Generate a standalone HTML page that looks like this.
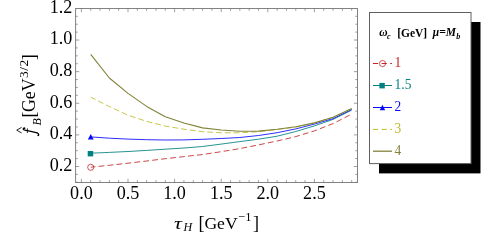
<!DOCTYPE html>
<html><head><meta charset="utf-8"><title>plot</title>
<style>
html,body{margin:0;padding:0;background:#fff;}
body{width:490px;height:243px;overflow:hidden;font-family:"Liberation Serif",serif;}
svg{display:block;will-change:transform;}
text{font-family:"Liberation Serif",serif;}
</style></head><body>
<svg width="490" height="243" viewBox="0 0 490 243">
<rect width="490" height="243" fill="#fff"/>
<g fill="none" stroke-width="0.85" stroke-linejoin="round">
<path d="M90.72,167.20 L109.36,165.30 L128.00,163.20 L146.64,161.00 L165.28,158.70 L183.92,156.60 L202.56,154.50 L221.20,151.70 L239.84,148.60 L258.48,144.90 L277.12,141.00 L295.76,136.60 L314.40,130.90 L333.04,123.60 L351.68,114.10" stroke="#c02626" stroke-dasharray="5.8 3.2" stroke-dashoffset="1.1"/>
<path d="M90.72,153.20 L109.36,152.40 L128.00,151.50 L146.64,150.40 L165.28,149.20 L183.92,148.00 L202.56,146.50 L221.20,144.10 L239.84,141.60 L258.48,139.20 L277.12,136.20 L295.76,131.50 L314.40,125.90 L333.04,119.40 L351.68,110.20" stroke="#008080"/>
<path d="M90.72,136.90 L109.36,138.20 L128.00,139.10 L146.64,139.70 L165.28,140.00 L183.92,139.90 L202.56,139.30 L221.20,138.50 L239.84,137.50 L258.48,135.50 L277.12,132.70 L295.76,128.90 L314.40,124.10 L333.04,118.60 L351.68,109.50" stroke="#0808ff"/>
<path d="M90.72,97.20 L109.36,106.50 L128.00,115.20 L146.64,121.40 L165.28,126.10 L183.92,129.20 L202.56,131.70 L221.20,132.80 L239.84,132.80 L258.48,131.70 L277.12,129.60 L295.76,127.10 L314.40,123.10 L333.04,117.40 L351.68,108.70" stroke="#bcbc28" stroke-dasharray="5.8 3.0" stroke-dashoffset="0.5"/>
<path d="M90.72,54.40 L109.36,78.00 L128.00,93.40 L146.64,106.40 L165.28,116.80 L183.92,123.00 L202.56,127.90 L221.20,130.00 L239.84,131.20 L258.48,131.10 L277.12,129.20 L295.76,126.80 L314.40,122.90 L333.04,117.20 L351.68,108.50" stroke="#82823a" stroke-width="1.1"/>
</g>
<circle cx="90.7" cy="167.3" r="3.05" fill="none" stroke="#c02626" stroke-width="0.8"/>
<rect x="87.7" y="151" width="5.5" height="5.4" fill="#008080"/>
<path d="M90.7,134.1 L93.7,139.5 L87.9,139.5 Z" fill="#0808ff"/>
<g stroke="#828282" stroke-width="1" fill="none">
<rect x="75.6" y="8.5" width="281.9" height="174.0"/>
<path d="M81.40,182.5 v-3.7 M81.40,8.5 v3.7 M90.72,182.5 v-2.3 M90.72,8.5 v2.3 M100.04,182.5 v-2.3 M100.04,8.5 v2.3 M109.36,182.5 v-2.3 M109.36,8.5 v2.3 M118.68,182.5 v-2.3 M118.68,8.5 v2.3 M128.00,182.5 v-3.7 M128.00,8.5 v3.7 M137.32,182.5 v-2.3 M137.32,8.5 v2.3 M146.64,182.5 v-2.3 M146.64,8.5 v2.3 M155.96,182.5 v-2.3 M155.96,8.5 v2.3 M165.28,182.5 v-2.3 M165.28,8.5 v2.3 M174.60,182.5 v-3.7 M174.60,8.5 v3.7 M183.92,182.5 v-2.3 M183.92,8.5 v2.3 M193.24,182.5 v-2.3 M193.24,8.5 v2.3 M202.56,182.5 v-2.3 M202.56,8.5 v2.3 M211.88,182.5 v-2.3 M211.88,8.5 v2.3 M221.20,182.5 v-3.7 M221.20,8.5 v3.7 M230.52,182.5 v-2.3 M230.52,8.5 v2.3 M239.84,182.5 v-2.3 M239.84,8.5 v2.3 M249.16,182.5 v-2.3 M249.16,8.5 v2.3 M258.48,182.5 v-2.3 M258.48,8.5 v2.3 M267.80,182.5 v-3.7 M267.80,8.5 v3.7 M277.12,182.5 v-2.3 M277.12,8.5 v2.3 M286.44,182.5 v-2.3 M286.44,8.5 v2.3 M295.76,182.5 v-2.3 M295.76,8.5 v2.3 M305.08,182.5 v-2.3 M305.08,8.5 v2.3 M314.40,182.5 v-3.7 M314.40,8.5 v3.7 M323.72,182.5 v-2.3 M323.72,8.5 v2.3 M333.04,182.5 v-2.3 M333.04,8.5 v2.3 M342.36,182.5 v-2.3 M342.36,8.5 v2.3 M351.68,182.5 v-2.3 M351.68,8.5 v2.3 M75.6,182.31 h2.2 M357.5,182.31 h-2.2 M75.6,174.40 h2.2 M357.5,174.40 h-2.2 M75.6,166.50 h3.6 M357.5,166.50 h-3.6 M75.6,158.59 h2.2 M357.5,158.59 h-2.2 M75.6,150.69 h2.2 M357.5,150.69 h-2.2 M75.6,142.78 h2.2 M357.5,142.78 h-2.2 M75.6,134.88 h3.6 M357.5,134.88 h-3.6 M75.6,126.97 h2.2 M357.5,126.97 h-2.2 M75.6,119.07 h2.2 M357.5,119.07 h-2.2 M75.6,111.16 h2.2 M357.5,111.16 h-2.2 M75.6,103.26 h3.6 M357.5,103.26 h-3.6 M75.6,95.35 h2.2 M357.5,95.35 h-2.2 M75.6,87.45 h2.2 M357.5,87.45 h-2.2 M75.6,79.55 h2.2 M357.5,79.55 h-2.2 M75.6,71.64 h3.6 M357.5,71.64 h-3.6 M75.6,63.73 h2.2 M357.5,63.73 h-2.2 M75.6,55.83 h2.2 M357.5,55.83 h-2.2 M75.6,47.92 h2.2 M357.5,47.92 h-2.2 M75.6,40.02 h3.6 M357.5,40.02 h-3.6 M75.6,32.11 h2.2 M357.5,32.11 h-2.2 M75.6,24.21 h2.2 M357.5,24.21 h-2.2 M75.6,16.30 h2.2 M357.5,16.30 h-2.2" stroke-width="0.7" stroke="#757575"/>
</g>
<g font-size="18.1" fill="#000">
<text x="81.4" y="198.7" text-anchor="middle">0.0</text>
<text x="128.0" y="198.7" text-anchor="middle">0.5</text>
<text x="174.6" y="198.7" text-anchor="middle">1.0</text>
<text x="221.2" y="198.7" text-anchor="middle">1.5</text>
<text x="267.8" y="198.7" text-anchor="middle">2.0</text>
<text x="314.4" y="198.7" text-anchor="middle">2.5</text>
<text x="72.4" y="170.8" text-anchor="end">0.2</text>
<text x="72.4" y="139.2" text-anchor="end">0.4</text>
<text x="72.4" y="107.6" text-anchor="end">0.6</text>
<text x="72.4" y="75.9" text-anchor="end">0.8</text>
<text x="72.4" y="44.3" text-anchor="end">1.0</text>
<text x="72.4" y="12.7" text-anchor="end">1.2</text>
</g>
<g fill="#000">
<text transform="translate(174.1,228.8) scale(1.34,1)" font-size="16.4" font-style="italic">τ</text>
<text x="183.5" y="231.2" font-size="12" font-style="italic">H</text>
<text x="198.6" y="229.2" font-size="18.2">[</text><text x="204.4" y="229" font-size="17.6">GeV</text>
<text x="238.1" y="221.0" font-size="12.5">−1</text>
<text x="252.9" y="229.2" font-size="18.2">]</text>
</g>
<g fill="#000" transform="translate(35,137.8) rotate(-90)">
<g fill="none" stroke="#000" stroke-linecap="round"><path d="M9.6,-10.6 C9.8,-12.0 8.5,-12.4 7.9,-10.8 C7.2,-8.4 6.5,-3.5 5.2,1.2 C4.6,3.3 3.5,4.3 2.4,3.5" stroke-width="1.2"/><path d="M5.2,-7.6 L9.0,-7.6" stroke-width="0.85"/></g><circle cx="9.5" cy="-10.4" r="0.8"/><circle cx="2.4" cy="3.2" r="0.8"/>
<path d="M4.9,-13.4 L7.6,-18.3 L10.4,-13.4" fill="none" stroke="#000" stroke-width="0.85"/>
<text x="12.4" y="5.7" font-size="12" font-style="italic">B</text>
<text x="20.2" y="0" font-size="18">[</text><text x="25.8" y="0" font-size="17.8">GeV</text>
<text x="59.7" y="-6.8" font-size="13.5" letter-spacing="0.5">3/2</text>
<text x="77.5" y="0" font-size="18">]</text>
</g>
<rect x="379" y="22" width="101.5" height="151.4" fill="#000"/>
<rect x="369.5" y="12.5" width="101.5" height="151.1" fill="#fff" stroke="#606060" stroke-width="1"/>
<g font-size="11.5" font-weight="bold" fill="#000">
<text x="379.3" y="36.4" font-style="italic">ω</text>
<text x="386.9" y="38.7" font-size="8" font-style="italic">c</text>
<text x="397.2" y="36.5">[GeV]</text>
<text x="432.8" y="36.4" font-style="italic">μ=M</text>
<text x="456.2" y="38.6" font-size="8" font-style="italic">b</text>
</g>
<g font-size="13.4" stroke-width="1" fill="none">
<path d="M372.9,63.5 H392.0" stroke="#c02626" stroke-dasharray="5.2 3.5"/>
<circle cx="382.5" cy="63.5" r="3.05" stroke="#c02626" stroke-width="0.8"/>
<text transform="translate(394.6,66.8) scale(1,1.13)" fill="#c02626">1</text>
<path d="M373.0,85.5 H392.0" stroke="#008080"/>
<rect x="379.4" y="82.9" width="5.4" height="5.5" fill="#008080"/>
<text transform="translate(394.6,88.6) scale(1,1.13)" fill="#008080">1.5</text>
<path d="M373.0,107.5 H392.0" stroke="#0808ff"/>
<path d="M382.45,104.7 L385.2,110.3 L379.7,110.3 Z" fill="#0808ff"/>
<text transform="translate(394.6,110.7) scale(1,1.13)" fill="#0808ff">2</text>
<path d="M372.9,129.4 H392.0" stroke="#bcbc28" stroke-dasharray="5.2 3.5"/>
<text transform="translate(394.6,132.8) scale(1,1.13)" fill="#bcbc28">3</text>
<path d="M373.0,151.2 H392.0" stroke="#82823a" stroke-width="1.3"/>
<text transform="translate(394.6,154.6) scale(1,1.13)" fill="#82823a">4</text>
</g>
</svg></body></html>
